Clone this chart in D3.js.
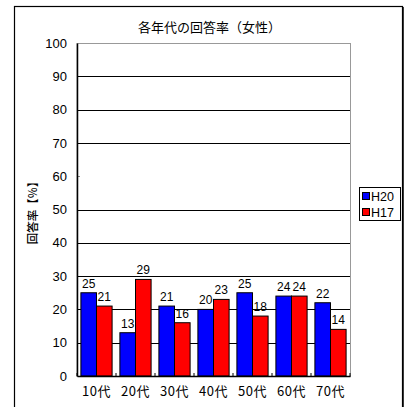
<!DOCTYPE html>
<html><head><meta charset="utf-8">
<script src="https://cdn.jsdelivr.net/npm/d3@7/dist/d3.min.js"></script>
<style>body{margin:0;background:#fff}svg{display:block}</style>
</head><body>
<svg id="c" width="408" height="407"></svg>
<script>
const categories = ["10代","20代","30代","40代","50代","60代","70代"];
const seriesNames = ["H20","H17"];
const valuesH20 = [25,13,21,20,25,24,22];
const valuesH17 = [21,29,16,23,18,24,14];
const yTicks = [0,10,20,30,40,50,60,70,80,90,100];
const colors = ["#0000ff","#ff0000"];
const title = "各年代の回答率（女性）";
const yTitle = "回答率【%】";

const svg = d3.select("#c");
const num = "'Liberation Sans', Arial, sans-serif";
const jp = "'Noto Sans CJK JP', sans-serif";

// outer frame
svg.append("rect").attr("x",14.5).attr("y",6.5).attr("width",388).attr("height",410)
  .attr("fill","none").attr("stroke","#000").attr("stroke-width",1.2);
svg.append("line").attr("x1",403).attr("x2",403).attr("y1",7).attr("y2",407)
  .attr("stroke","#000").attr("stroke-width",1.5);

const L=77, R=350, T=43, B=376;
const x = d3.scaleBand().domain(categories).range([L,R]).paddingInner(0.2).paddingOuter(0.1);
const x0 = d3.scaleBand().domain(categories).range([L,R]);
const xs = d3.scaleBand().domain(seriesNames).range([0,x.bandwidth()]);
const y = d3.scaleLinear().domain([0,100]).range([B,T]);

// plot border (gray)
svg.append("rect").attr("x",L).attr("y",T+0.5).attr("width",R-L+0.5).attr("height",B-T)
  .attr("fill","none").attr("stroke","#999").attr("stroke-width",1);

// gridlines
svg.append("g").selectAll("line").data(yTicks.filter(v=>v>0 && v<100 && v!==60)).join("line")
  .attr("x1",L).attr("x2",R).attr("y1",d=>Math.round(y(d))+0.5).attr("y2",d=>Math.round(y(d))+0.5)
  .attr("stroke","#000").attr("stroke-width",1);
svg.append("line").attr("x1",L).attr("x2",L+3).attr("y1",Math.round(y(60))+0.5).attr("y2",Math.round(y(60))+0.5)
  .attr("stroke","#888");

// y axis
const yAxis = svg.append("g").attr("transform",`translate(${L},0)`)
  .call(d3.axisLeft(y).tickValues(yTicks).tickSize(0).tickPadding(10));
yAxis.select(".domain").attr("stroke","#000").attr("stroke-width",1.5);
yAxis.selectAll("text").attr("font-family",num).attr("font-size",13).attr("fill","#000");

// bars
const data = categories.map((c,i)=>({c, vals:[valuesH20[i],valuesH17[i]]}));
const g = svg.append("g").selectAll("g").data(data).join("g")
  .attr("transform",d=>`translate(${x(d.c)},0)`);
g.selectAll("rect").data(d=>d.vals.map((v,j)=>({v,s:seriesNames[j],j}))).join("rect")
  .attr("x",d=>xs(d.s)).attr("width",xs.bandwidth()).attr("y",d=>y(d.v)).attr("height",d=>B-y(d.v))
  .attr("fill",d=>colors[d.j]).attr("stroke","#000").attr("stroke-width",1);
g.selectAll("text").data(d=>d.vals.map((v,j)=>({v,s:seriesNames[j],j}))).join("text")
  .attr("x",d=>xs(d.s)+xs.bandwidth()/2).attr("y",d=>y(d.v)-5)
  .attr("text-anchor","middle").attr("font-family",num).attr("font-size",12).attr("fill","#000")
  .text(d=>d.v);

// x axis
const xAxis = svg.append("g").attr("transform",`translate(0,${B})`)
  .call(d3.axisBottom(x0).tickSize(0).tickPadding(11));
xAxis.select(".domain").attr("stroke","#000").attr("stroke-width",1.5);
xAxis.selectAll("text").attr("font-family",jp).attr("font-size",13).attr("letter-spacing",0.5).attr("fill","#000");
svg.append("g").selectAll("line").data(d3.range(categories.length+1)).join("line")
  .attr("x1",i=>L+i*x0.step()).attr("x2",i=>L+i*x0.step()).attr("y1",B).attr("y2",B-3)
  .attr("stroke","#000");

// title
svg.append("text").attr("x",209.5).attr("y",32).attr("text-anchor","middle")
  .attr("font-family",jp).attr("font-size",13).attr("fill","#000").text(title);
// y title
svg.append("text").attr("transform","translate(37,210) rotate(-90)").attr("text-anchor","middle")
  .attr("font-family",jp).attr("font-size",11.5).attr("font-weight",500).attr("fill","#000").text(yTitle);

// legend
const lg = svg.append("g");
lg.append("rect").attr("x",359.5).attr("y",187.5).attr("width",41).attr("height",33)
  .attr("fill","#fff").attr("stroke","#000");
seriesNames.forEach((s,i)=>{
  lg.append("rect").attr("x",362.5).attr("y",192.5+i*16).attr("width",7).attr("height",7)
    .attr("fill",colors[i]).attr("stroke","#000");
  lg.append("text").attr("x",371).attr("y",200.5+i*16).attr("font-family",num).attr("font-size",12.5)
    .attr("fill","#000").text(s);
});
</script>
</body></html>
